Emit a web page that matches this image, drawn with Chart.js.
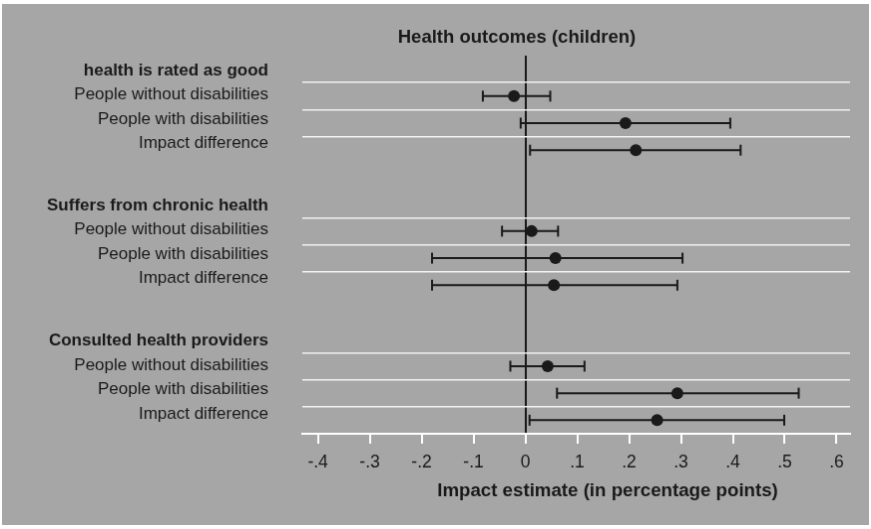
<!DOCTYPE html>
<html><head><meta charset="utf-8">
<script src="https://cdn.jsdelivr.net/npm/chart.js@4.4.1/dist/chart.umd.min.js"></script>
<style>
html,body{margin:0;padding:0;background:#fff;}
#c{position:absolute;left:0;top:0;border-left:2px solid #fff;border-top:4px solid #fff;background:#a6a6a6;}
</style></head><body>
<canvas id="c" width="869" height="525"></canvas>
<script>
// ---- data ----
const chartTitle = 'Health outcomes (children)';
const axisTitle = 'Impact estimate (in percentage points)';
const groupLabels = ['health is rated as good', 'Suffers from chronic health', 'Consulted health providers'];
const rowLabels = ['People without disabilities', 'People with disabilities', 'Impact difference'];
const estimates   = [[-0.022, 0.193, 0.213], [0.012, 0.058, 0.055], [0.043, 0.293, 0.254]];
const lowerBounds = [[-0.082, -0.009, 0.009], [-0.045, -0.180, -0.180], [-0.029, 0.061, 0.008]];
const upperBounds = [[0.048, 0.395, 0.415], [0.063, 0.303, 0.293], [0.114, 0.527, 0.499]];
const xTickValues = [-0.4, -0.3, -0.2, -0.1, 0, 0.1, 0.2, 0.3, 0.4, 0.5, 0.6];

// ---- layout / style ----
const FONT = "'Liberation Sans', Arial, Helvetica, sans-serif";
const INK = '#1a1a1a';
const SLOTS_PER_GROUP = 5;
const LABEL_OFFSET = 0.06;
const LABEL_STEP = 0.9;
const TITLE_CENTER = 0.3916;
const AXIS_TITLE_CENTER = 0.5574;

const yTicks = [], yTickText = [], yTickBold = [], gridValues = [];
const datasets = [], estPoints = [];
groupLabels.forEach((g, gi) => {
  const base = gi * SLOTS_PER_GROUP;
  yTicks.push(base + LABEL_OFFSET); yTickText.push(g); yTickBold.push(true);
  gridValues.push(base + 0.5);
  rowLabels.forEach((r, ri) => {
    const slot = base + 1 + ri;
    yTicks.push(base + LABEL_OFFSET + LABEL_STEP * (ri + 1)); yTickText.push(r); yTickBold.push(false);
    if (ri < rowLabels.length - 1) gridValues.push(slot + 0.5);
    datasets.push({
      type: 'line',
      data: [{x: lowerBounds[gi][ri], y: slot}, {x: upperBounds[gi][ri], y: slot}],
      borderColor: INK, borderWidth: 2, fill: false, tension: 0,
      pointStyle: 'line', rotation: 90, pointRadius: 5.5, pointBorderWidth: 2,
      pointBorderColor: INK, pointBackgroundColor: INK, order: 2
    });
    estPoints.push({x: estimates[gi][ri], y: slot});
  });
});
datasets.push({
  type: 'scatter', data: estPoints, pointRadius: 6, pointBorderWidth: 0,
  pointBackgroundColor: INK, pointBorderColor: INK, order: 1
});

function fmt(v) {
  if (Math.abs(v) < 1e-9) return '0';
  return (v < 0 ? '-' : '') + '.' + Math.round(Math.abs(v) * 10);
}

const centerPlugin = {
  id: 'centerTitles',
  afterLayout(chart) {
    const area = chart.chartArea;
    const place = (box, frac) => {
      if (!box) return;
      const w = box.right - box.left;
      const cx = area.left + frac * (area.right - area.left);
      box.left = cx - w / 2; box.right = cx + w / 2;
    };
    place(chart.titleBlock, TITLE_CENTER);
    place(chart.boxes.find(b => b !== chart.titleBlock && b.options && b.options.text === axisTitle), AXIS_TITLE_CENTER);
  }
};

new Chart(document.getElementById('c'), {
  type: 'scatter',
  data: {datasets},
  plugins: [centerPlugin],
  options: {
    responsive: false, animation: false, devicePixelRatio: 1,
    layout: {padding: {left: 0, right: 19, top: 0, bottom: 0}},
    plugins: {
      legend: {display: false}, tooltip: {enabled: false},
      title: {display: true, text: chartTitle, color: INK,
        font: {family: FONT, size: 18.5, weight: 'bold'}, padding: {top: 22.9, bottom: 6.9}},
      subtitle: {display: true, position: 'bottom', text: axisTitle, color: INK,
        font: {family: FONT, size: 18.7, weight: 'bold'}, padding: {top: 6.8, bottom: 22.8}}
    },
    scales: {
      x: {
        type: 'linear', position: 'bottom', min: -0.43, max: 0.626,
        afterBuildTicks: s => { s.ticks = xTickValues.map(v => ({value: v})); },
        ticks: {callback: v => fmt(v), color: INK, font: {family: FONT, size: 17.5}, padding: 9.2, maxRotation: 0, autoSkip: false},
        grid: {color: c => (c.tick && Math.abs(c.tick.value) < 1e-9) ? INK : 'rgba(0,0,0,0)',
          lineWidth: 2, drawTicks: true, tickLength: 10, tickColor: '#ffffff', tickWidth: 2},
        border: {display: true, color: '#ffffff', width: 2},
        afterFit: s => { s.height = 40; }
      },
      y: {
        type: 'linear', position: 'left', reverse: true, min: -0.5, max: 13.5,
        afterBuildTicks: s => { s.ticks = yTicks.map(v => ({value: v})); },
        ticks: {autoSkip: false, callback: (v, i) => yTickText[i], color: INK, padding: 34,
          font: c => ({family: FONT, size: 17, weight: yTickBold[c.index] ? 'bold' : 'normal'})},
        grid: {display: false, drawTicks: false},
        border: {display: false},
        afterFit: s => { s.width = 301; }
      },
      yGrid: {
        type: 'linear', position: 'right', reverse: true, min: -0.5, max: 13.5,
        afterBuildTicks: s => { s.ticks = gridValues.map(v => ({value: v})); },
        ticks: {display: false},
        grid: {color: '#f2f2f2', lineWidth: 1.5, drawTicks: false},
        border: {display: false},
        afterFit: s => { s.width = 0; }
      }
    }
  }
});
</script>
</body></html>
